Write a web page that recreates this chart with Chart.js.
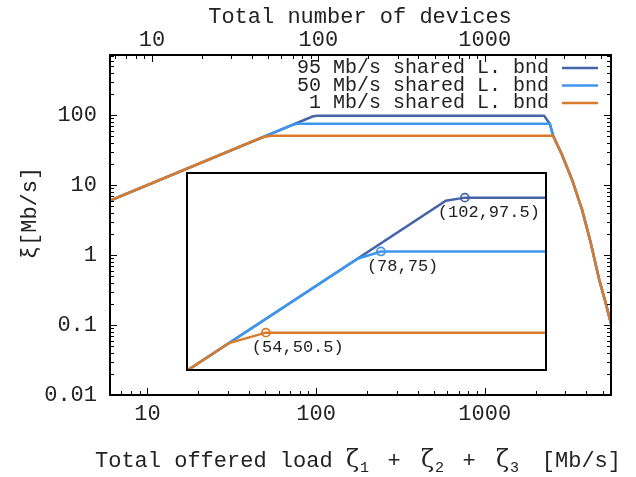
<!DOCTYPE html>
<html>
<head>
<meta charset="utf-8">
<script src="https://cdn.jsdelivr.net/npm/chart.js@4.4.1/dist/chart.umd.min.js"></script>
<style>
html, body { margin: 0; padding: 0; background: #fff; }
#wrap { position: relative; width: 636px; height: 477px; }
#inset { position: absolute; left: 186px; top: 172px; width: 357px; height: 195px; border: 2px solid #000; background: #fff; }
canvas { display: block; }
</style>
</head>
<body>
<div id="wrap">
  <canvas id="main" width="636" height="477"></canvas>
  <div id="inset"><canvas id="zoom" width="357" height="195"></canvas></div>
</div>
<script>
var seriesNames = ['95 Mb/s shared L. bnd', '50 Mb/s shared L. bnd', '1 Mb/s shared L. bnd'];
var seriesColors = ['#4565a8', '#3d97ee', '#d97b2a'];

// y = x until the knee, then the plateau
var load95 = [5, 96, 102, 2249, 2432];
var xi95 = [5, 96, 97.5, 97.5, 75];
var load50 = [5, 72.4, 78, 2432];
var xi50 = [5, 72.4, 75, 75];
var load1 = [5, 48, 54];
var xi1 = [5, 48, 50.5];
// common fall-off at very high load
var dropLoad = [2543, 2875, 3297, 3779, 4250, 4765, 5200, 5600];
var dropXi = [50.5, 26.8, 11.8, 4.4, 1.5, 0.45, 0.21, 0.105];

// marked points in the zoom box
var kneeLoad = [102, 78, 54];
var kneeXi = [97.5, 75, 50.5];
var kneeText = ['(102,97.5)', '(78,75)', '(54,50.5)'];

var loadTicks = [10, 100, 1000];
var deviceTicks = [10, 100, 1000];
var xiTicks = [0.01, 0.1, 1, 10, 100];

var MONO = 'Liberation Mono';
var TXT = '#222';
Chart.defaults.font.family = MONO;
Chart.defaults.color = TXT;

function pts(xs, ys) {
    return xs.map(function (x, i) { return { x: x, y: ys[i] }; });
}

var curves = [
    pts(load95.concat(dropLoad), xi95.concat(dropXi)),
    pts(load50.concat(dropLoad), xi50.concat(dropXi)),
    pts(load1.concat(dropLoad), xi1.concat(dropXi))
];

function lineSets() {
    return curves.map(function (d, i) {
        return {
            label: seriesNames[i],
            data: d,
            showLine: true,
            borderColor: seriesColors[i],
            backgroundColor: seriesColors[i],
            borderWidth: 2.5,
            pointRadius: 0,
            order: 3 - i
        };
    });
}

function setTicks(list) {
    return function (s) { s.ticks = list.map(function (v) { return { value: v }; }); };
}

function inwardTicks(ctx, scale, horizontal, edge, dir) {
    var lo = Math.floor(Math.log10(scale.min)), hi = Math.ceil(Math.log10(scale.max));
    for (var e = lo; e <= hi; e++) {
        for (var m = 1; m <= 9; m++) {
            var v = m * Math.pow(10, e);
            if (v < scale.min * 0.999 || v > scale.max * 1.001) continue;
            var p = Math.round(scale.getPixelForValue(v)) + 0.5;
            var len = m === 1 ? 7 : 4;
            ctx.beginPath();
            if (horizontal) { ctx.moveTo(p, edge); ctx.lineTo(p, edge + dir * len); }
            else { ctx.moveTo(edge, p); ctx.lineTo(edge + dir * len, p); }
            ctx.stroke();
        }
    }
}

var decorate = {
    id: 'decorate',
    afterDraw: function (chart) {
        var ctx = chart.ctx, a = chart.chartArea, sc = chart.scales;
        ctx.save();
        ctx.strokeStyle = '#000';
        ctx.lineWidth = 1;
        inwardTicks(ctx, sc.x, true, a.bottom, -1);
        inwardTicks(ctx, sc.x2, true, a.top, 1);
        inwardTicks(ctx, sc.y, false, a.left, 1);
        inwardTicks(ctx, sc.y, false, a.right, -1);
        ctx.lineWidth = 2;
        ctx.strokeRect(a.left, a.top, a.right - a.left, a.bottom - a.top);

        // legend
        var rows = [68, 85.5, 103];
        ctx.font = '20px "' + MONO + '"';
        ctx.fillStyle = TXT;
        ctx.textAlign = 'right';
        ctx.textBaseline = 'middle';
        chart.data.datasets.forEach(function (ds, i) {
            ctx.fillText(ds.label, 549, rows[i]);
            ctx.strokeStyle = ds.borderColor;
            ctx.lineWidth = 2.5;
            ctx.beginPath();
            ctx.moveTo(562, rows[i]);
            ctx.lineTo(598, rows[i]);
            ctx.stroke();
        });

        // axis titles
        ctx.fillStyle = TXT;
        ctx.textAlign = 'center';
        ctx.font = '22px "' + MONO + '"';
        ctx.fillText('Total number of devices', 360, 17);

        ctx.save();
        ctx.translate(30, 213);
        ctx.rotate(-Math.PI / 2);
        ctx.fillText('\u03be[Mb/s]', 0, 0);
        ctx.restore();

        // bottom title, pieces placed one by one for the subscripts
        var base = 467;
        var mono = '22px "' + MONO + '"', greek = '24px "DejaVu Serif"', sub = '15px "' + MONO + '"';
        ctx.textBaseline = 'alphabetic';
        ctx.textAlign = 'left';
        ctx.font = mono;
        ctx.fillText('Total offered load', 95, base);
        [346, 421, 496].forEach(function (gx, i) {
            ctx.font = greek;
            ctx.fillText('\u03b6', gx, base);
            var w = ctx.measureText('\u03b6').width;
            ctx.font = sub;
            ctx.fillText(String(i + 1), gx + w + 1, base + 5);
        });
        ctx.font = mono;
        ctx.textAlign = 'center';
        ctx.fillText('+', 394, base);
        ctx.fillText('+', 469, base);
        ctx.textAlign = 'right';
        ctx.fillText('[Mb/s]', 621, base);
        ctx.restore();
    }
};

function logAxis(pos, min, max, list, pad, fit) {
    return {
        type: 'logarithmic', position: pos, min: min, max: max,
        grid: { display: false, drawTicks: false }, border: { display: false },
        ticks: { padding: pad, font: { size: 22 }, color: TXT, maxRotation: 0, autoSkip: false,
                 callback: function (v) { return String(v); } },
        afterBuildTicks: setTicks(list),
        afterFit: fit
    };
}

new Chart(document.getElementById('main'), {
    type: 'scatter',
    data: { datasets: lineSets() },
    options: {
        responsive: false,
        animation: false,
        devicePixelRatio: 1,
        layout: { autoPadding: false, padding: { left: 0, top: 0, right: 25, bottom: 0 } },
        plugins: { legend: { display: false }, tooltip: { enabled: false } },
        scales: {
            x: logAxis('bottom', 6.0, 5605, loadTicks, 6, function (s) { s.height = 82; }),
            x2: logAxis('top', 5.6, 5740, deviceTicks, 2, function (s) { s.height = 55; }),
            y: logAxis('left', 0.01, 720, xiTicks, 13, function (s) { s.width = 110; })
        }
    },
    plugins: [decorate]
});

var kneeLabels = {
    id: 'kneeLabels',
    afterDraw: function (chart) {
        var ctx = chart.ctx, sx = chart.scales.x, sy = chart.scales.y;
        var dx = [-27, -14, -14];
        ctx.save();
        ctx.font = '17px "' + MONO + '"';
        ctx.fillStyle = TXT;
        ctx.textAlign = 'left';
        ctx.textBaseline = 'middle';
        kneeText.forEach(function (t, i) {
            ctx.fillText(t, sx.getPixelForValue(kneeLoad[i]) + dx[i], sy.getPixelForValue(kneeXi[i]) + 15);
        });
        ctx.restore();
    }
};

var zoomSets = lineSets();
zoomSets.push({
    label: 'knees',
    data: pts(kneeLoad, kneeXi),
    showLine: false,
    pointRadius: 4,
    pointBorderWidth: 1.8,
    pointBorderColor: seriesColors,
    pointBackgroundColor: 'rgba(0,0,0,0)',
    order: 0
});

new Chart(document.getElementById('zoom'), {
    type: 'scatter',
    data: { datasets: zoomSets },
    options: {
        responsive: false,
        animation: false,
        devicePixelRatio: 1,
        layout: { autoPadding: false, padding: 0 },
        plugins: { legend: { display: false }, tooltip: { enabled: false } },
        scales: {
            x: { type: 'logarithmic', display: false, min: 42.1, max: 131.8 },
            y: { type: 'logarithmic', display: false, min: 42.3, max: 109.4 }
        }
    },
    plugins: [kneeLabels]
});
</script>
</body>
</html>
